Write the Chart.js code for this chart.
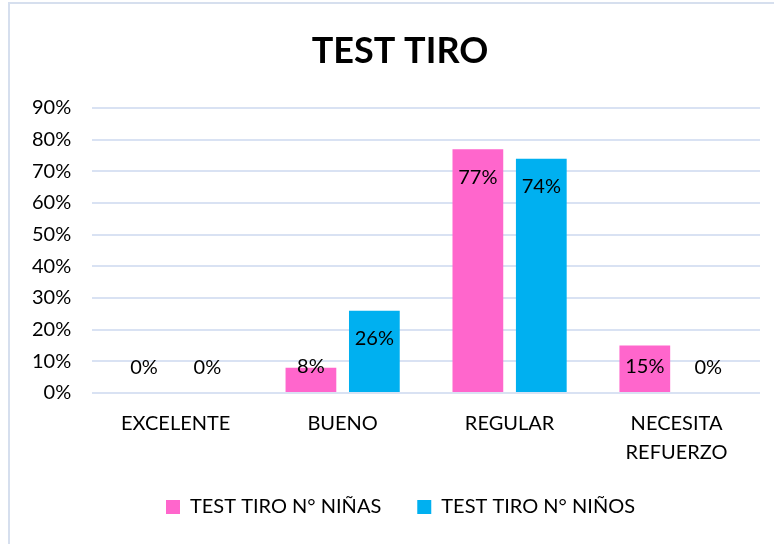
<!DOCTYPE html>
<html>
<head>
<meta charset="utf-8">
<script src="https://cdn.jsdelivr.net/npm/chart.js@4"></script>
<style>
  html, body { margin: 0; padding: 0; background: #fff; }
  #wrap { position: absolute; left: 0; top: 0; width: 774px; height: 544px; }
</style>
</head>
<body>
<div id="wrap"><canvas id="chart" width="774" height="544"></canvas></div>
<script>
const categories = ['EXCELENTE', 'BUENO', 'REGULAR', ['NECESITA', 'REFUERZO']];
const ninas = [0, 8, 77, 15];
const ninos = [0, 26, 74, 0];
const yTicks = [0, 10, 20, 30, 40, 50, 60, 70, 80, 90];
const chartTitle = 'TEST TIRO';

const FONT = 'Lato, "Open Sans", sans-serif';

// light frame on the left and top + the title (centred on the sheet box, not the canvas)
const frame = {
  id: 'frame',
  afterLayout(chart) {
    // legend sits centred on the sheet box too
    chart.legend.left += 15;
    chart.legend.right += 15;
  },
  beforeDraw(chart) {
    const c = chart.ctx;
    c.save();
    c.strokeStyle = '#D6DFEE';
    c.lineWidth = 2;
    c.beginPath();
    c.moveTo(9, 544);
    c.lineTo(9, 3);
    c.lineTo(774, 3);
    c.stroke();
    c.font = 'bold 36px ' + FONT;
    c.fillStyle = '#000';
    c.textAlign = 'center';
    c.textBaseline = 'middle';
    c.fillText(chartTitle, 400, 51);
    c.restore();
  }
};

// value labels inside the top of each bar
const barLabels = {
  id: 'barLabels',
  afterDatasetsDraw(chart) {
    const c = chart.ctx;
    c.save();
    c.font = '20px ' + FONT;
    c.fillStyle = '#000';
    c.textAlign = 'center';
    c.textBaseline = 'middle';
    chart.data.datasets.forEach((ds, i) => {
      chart.getDatasetMeta(i).data.forEach((bar, j) => {
        const y = Math.min(bar.y + 28, bar.base - 25);
        c.fillText(ds.data[j] + '%', bar.x, y);
      });
    });
    c.restore();
  }
};

new Chart(document.getElementById('chart'), {
  type: 'bar',
  data: {
    labels: categories,
    datasets: [
      { label: 'TEST TIRO N° NIÑAS', data: ninas, backgroundColor: '#FF66CC' },
      { label: 'TEST TIRO N° NIÑOS', data: ninos, backgroundColor: '#00B0F0' }
    ]
  },
  options: {
    responsive: false,
    animation: false,
    layout: { padding: { left: 11, right: 14, top: 108, bottom: 17 } },
    datasets: { bar: { categoryPercentage: 0.76, barPercentage: 0.8 } },
    scales: {
      x: {
        grid: { display: false, drawTicks: false },
        border: { display: false },
        ticks: { color: '#000', padding: 16, maxRotation: 0, font: { family: FONT, size: 20, lineHeight: 1.45 } },
        afterFit(axis) { axis.height = 68; }
      },
      y: {
        min: 0, max: 90,
        afterBuildTicks(axis) { axis.ticks = yTicks.map(v => ({ value: v })); },
        grid: { color: '#D9E2F3', lineWidth: 2, drawTicks: false },
        border: { display: false },
        ticks: { color: '#000', padding: 21, callback: v => v + '%', font: { family: FONT, size: 20 } }
      }
    },
    plugins: {
      title: { display: false },
      legend: {
        position: 'bottom',
        labels: { color: '#000', boxWidth: 14, boxHeight: 14, padding: 36, font: { family: FONT, size: 20 } }
      },
      tooltip: { enabled: false }
    }
  },
  plugins: [frame, barLabels]
});
</script>
</body>
</html>
